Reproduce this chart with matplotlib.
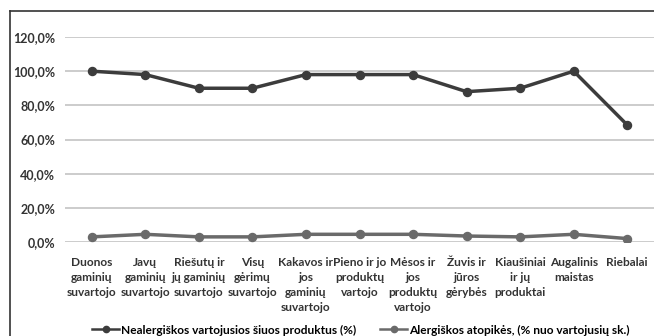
import matplotlib
matplotlib.use("Agg")
import matplotlib.pyplot as plt
from matplotlib.lines import Line2D

plt.rcParams['font.family'] = ['Lato', 'DejaVu Sans']

categories = [
    "Duonos\ngaminių\nsuvartojo",
    "Javų\ngaminių\nsuvartojo",
    "Riešutų ir\njų gaminių\nsuvartojo",
    "Visų\ngėrimų\nsuvartojo",
    "Kakavos ir\njos\ngaminių\nsuvartojo",
    "Pieno ir jo\nproduktų\nvartojo",
    "Mėsos ir\njos\nproduktų\nvartojo",
    "Žuvis ir\njūros\ngėrybės",
    "Kiaušiniai\nir jų\nproduktai",
    "Augalinis\nmaistas",
    "Riebalai",
]
non_allergic = [100, 98, 90, 90, 98, 98, 98, 88, 90, 100, 68.5]
allergic = [3.0, 4.5, 3.0, 3.0, 4.5, 4.5, 4.5, 3.5, 3.0, 4.5, 2.0]
series_names = ["Nealergiškos vartojusios šiuos produktus (%)",
                "Alergiškos atopikės, (% nuo vartojusių sk.)"]
yticks = [0, 20, 40, 60, 80, 100, 120]

W, H = 654, 336
fig = plt.figure(figsize=(W / 100, H / 100), dpi=100)
fig.patch.set_facecolor("white")

ax = fig.add_axes([65 / W, (H - 242) / H, (W - 65) / W, (242 - 37) / H])
x = list(range(len(categories)))
c1, c2 = "#3c3c3c", "#6a6a6a"
ax.plot(x, non_allergic, color=c1, lw=2.5, marker="o", ms=5.8, zorder=3)
ax.plot(x, allergic, color=c2, lw=2.5, marker="o", ms=5.8, zorder=3)

ax.set_xlim(-0.5, len(categories) - 0.5)
ax.set_ylim(0, 120)
ax.set_yticks(yticks)
ax.set_yticklabels([f"{v:.1f}%".replace(".", ",") for v in yticks],
                   fontsize=9, fontweight="bold", color="#333333")
ax.set_xticks(x)
ax.set_xticklabels(categories, fontsize=8.6, fontweight="bold",
                   color="#333333", linespacing=1.42, va="top")
ax.tick_params(axis="both", length=0)
ax.tick_params(axis="y", pad=7)
ax.tick_params(axis="x", pad=11)
ax.grid(axis="y", color="#c8c8c8", lw=1.3)
ax.set_axisbelow(True)
for s in ax.spines.values():
    s.set_visible(False)

# one legend entry per series, placed side by side below the chart
legend_y = (H - 330) / H
for color, name, left in zip([c1, c2], series_names, [92, 380]):
    handle = Line2D([], [], color=color, lw=1.8, marker="o", ms=4.5)
    fig.legend([handle], [name], loc="center left",
               bbox_to_anchor=(left / W, legend_y), frameon=False,
               prop={"weight": "bold", "size": 8.6}, borderpad=0,
               borderaxespad=0, handlelength=2.3, handletextpad=0.15)

# frame along the left and top edges of the figure
fig.add_artist(Line2D([10 / W, 10 / W], [0, (H - 11) / H], color="#333333", lw=1.2))
fig.add_artist(Line2D([10 / W, 1], [(H - 11) / H, (H - 11) / H], color="#333333", lw=1.2))

fig.savefig("out.png", dpi=100, facecolor="white")
